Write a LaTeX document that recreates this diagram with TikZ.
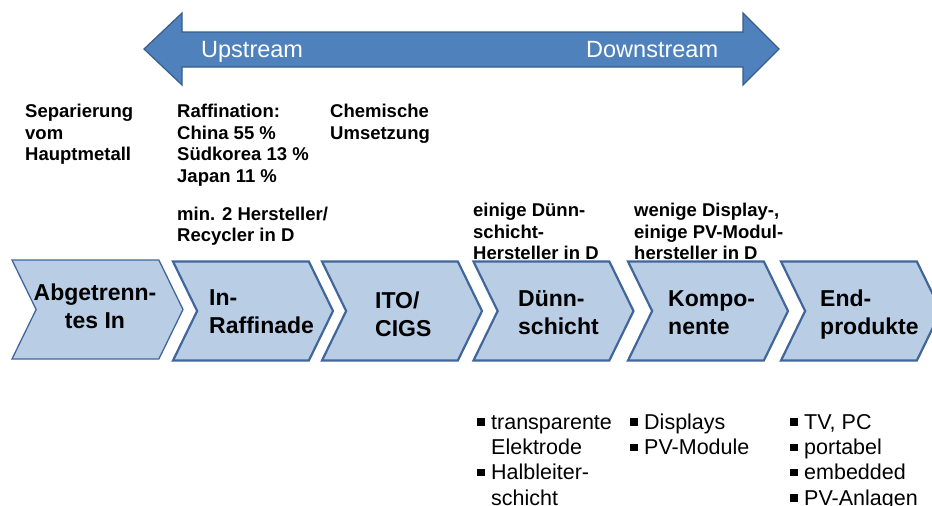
\documentclass[tikz,border=0pt]{standalone}
\usepackage{fontspec}
\setmainfont{Liberation Sans}
\usetikzlibrary{shapes.symbols}
\definecolor{arrowblue}{HTML}{4F81BD}
\definecolor{arrowedge}{HTML}{385D8A}
\definecolor{stagefill}{HTML}{B9CDE5}
\definecolor{stageedge}{HTML}{41679A}
\newcommand{\sqbul}{\rule[3.5pt]{7.5pt}{7.5pt}}

\begin{document}
\begin{tikzpicture}[x=1pt,y=-1pt,
    stage/.style={signal, signal from=west, signal to=east, signal pointer angle=128,
      fill=stagefill, draw=stageedge, line width=2.2pt,
      minimum width=160pt, minimum height=99pt, inner sep=0pt},
    stagetext/.style={font=\fontsize{23}{28}\selectfont\bfseries, inner sep=0pt},
    note/.style={font=\fontsize{18.5}{21.5}\selectfont\bfseries, anchor=north west, inner sep=0pt},
    items/.style={font=\fontsize{21.5}{25.3}\selectfont, anchor=north west, inner sep=0pt},
    flow/.style={font=\fontsize{23.5}{28}\selectfont, text=white, anchor=base west, inner sep=0pt}]
  \clip (0,0) rectangle (932,506);
  % up/downstream arrow
  \draw[fill=arrowblue, draw=arrowedge, line width=1.2pt]
    (144,49) -- (182,13) -- (182,32) -- (743,32) -- (743,13) -- (779,49)
    -- (743,85) -- (743,67) -- (182,67) -- (182,85) -- cycle;
  \node[flow] (up) at (201,57.3) {Upstream};
  \node[flow] (down) at (586,57.3) {Downstream};

  % notes above the chain
  \node[note] (sep) at (25,102.6) {\begin{tabular}{@{}l@{}}Separierung\\vom\\Hauptmetall\end{tabular}};
  \node[note] (raff) at (177,102.6) {\begin{tabular}{@{}l@{}}Raffination:\\China 55 \%\\Südkorea 13 \%\\Japan 11 \%\end{tabular}};
  \node[note] (chem) at (330,102.6) {\begin{tabular}{@{}l@{}}Chemische\\Umsetzung\end{tabular}};
  \node[note] (herst) at (177,205) {\begin{tabular}{@{}l@{}}min. 2 Hersteller/\\Recycler in D\end{tabular}};
  \node[note] (duenn) at (473,201.6) {\begin{tabular}{@{}l@{}}einige Dünn-\\schicht-\\Hersteller in D\end{tabular}};
  \node[note] (displ) at (634,201.6) {\begin{tabular}{@{}l@{}}wenige Display-,\\einige PV-Modul-\\hersteller in D\end{tabular}};

  % value chain
  \node[stage, minimum width=171pt, line width=1.3pt] (abg) at (97.5,309.5) {};
  \node[stage] (raf) at (253,311) {};
  \node[stage] (ito) at (402,311) {};
  \node[stage] (dsc) at (553.5,311) {};
  \node[stage] (kom) at (708,311) {};
  \node[stage] (end) at (861,311) {};

  \node[stagetext] (abgt) at (95,308.4) {\begin{tabular}{@{}c@{}}Abgetrenn-\\tes In\end{tabular}};
  \node[stagetext, anchor=west] (raft) at (209,313.4) {\begin{tabular}{@{}l@{}}In-\\Raffinade\end{tabular}};
  \node[stagetext, anchor=west] (itot) at (375,316.4) {\begin{tabular}{@{}l@{}}ITO/\\CIGS\end{tabular}};
  \node[stagetext, anchor=west] (dsct) at (518,314.4) {\begin{tabular}{@{}l@{}}Dünn-\\schicht\end{tabular}};
  \node[stagetext, anchor=west] (komt) at (668,314.4) {\begin{tabular}{@{}l@{}}Kompo-\\nente\end{tabular}};
  \node[stagetext, anchor=west] (endt) at (820,314.4) {\begin{tabular}{@{}l@{}}End-\\produkte\end{tabular}};

  % applications
  \node[items] (appd) at (477,411.3) {\begin{tabular}{@{}l@{\hspace{6.5pt}}l@{}}
    \sqbul & transparente\\ & Elektrode\\ \sqbul & Halbleiter-\\ & schicht\end{tabular}};
  \node[items] (appk) at (630,411.3) {\begin{tabular}{@{}l@{\hspace{6.5pt}}l@{}}
    \sqbul & Displays\\ \sqbul & PV-Module\end{tabular}};
  \node[items] (appe) at (790,411.3) {\begin{tabular}{@{}l@{\hspace{6.5pt}}l@{}}
    \sqbul & TV, PC\\ \sqbul & portabel\\ \sqbul & embedded\\ \sqbul & PV-Anlagen\end{tabular}};
\end{tikzpicture}
\end{document}
